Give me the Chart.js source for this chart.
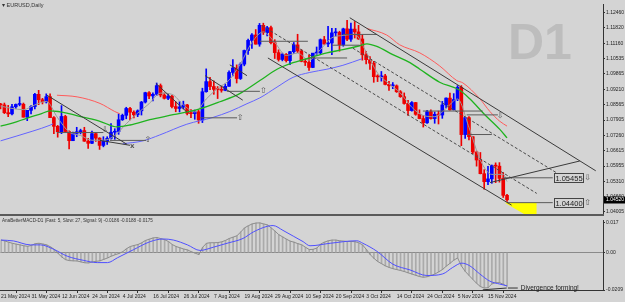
<!DOCTYPE html>
<html>
<head>
<meta charset="utf-8">
<script src="https://cdn.jsdelivr.net/npm/chart.js@4.4.1/dist/chart.umd.min.js"></script>
<style>
  html, body { margin: 0; padding: 0; background: #d4d4d4; }
  #wrap { position: relative; width: 625px; height: 302px; overflow: hidden; }
  #main { position: absolute; left: 0; top: 0; }
  #macd { position: absolute; left: 0; top: 216px; }
  #sep { position: absolute; left: 0; top: 214px; width: 604px; height: 2px; background: #5a5a5a; }
</style>
</head>
<body>
<div id="wrap">
  <canvas id="main" width="625" height="222"></canvas>
  <div id="sep"></div>
  <canvas id="macd" width="625" height="86"></canvas>
</div>
<script>
// EURUSD daily bars, 21 May 2024 .. 22 Nov 2024
const opens = [1.0857,1.0855,1.0822,1.0817,1.0847,1.0857,1.0858,1.0803,1.0832,1.0848,1.0900,1.0877,1.0868,1.0890,1.0801,1.0764,1.0741,1.0806,1.0742,1.0703,1.0734,1.0741,1.0746,1.0701,1.0692,1.0733,1.0714,1.0683,1.0701,1.0713,1.0739,1.0742,1.0792,1.0811,1.0840,1.0824,1.0813,1.0830,1.0867,1.0907,1.0893,1.0900,1.0937,1.0897,1.0883,1.0892,1.0848,1.0840,1.0846,1.0855,1.0819,1.0818,1.0826,1.0791,1.0911,1.0954,1.0933,1.0921,1.0920,1.0917,1.0934,1.0993,1.1012,1.0967,1.1028,1.1086,1.1129,1.1152,1.1113,1.1193,1.1162,1.1183,1.1119,1.1077,1.1048,1.1070,1.1043,1.1081,1.1110,1.1084,1.1040,1.1036,1.1014,1.1075,1.1076,1.1132,1.1114,1.1118,1.1161,1.1163,1.1111,1.1178,1.1134,1.1177,1.1165,1.1135,1.1068,1.1047,1.1032,1.0975,1.0974,1.0978,1.0942,1.0936,1.0936,1.0911,1.0890,1.0861,1.0831,1.0865,1.0815,1.0797,1.0779,1.0826,1.0797,1.0815,1.0812,1.0855,1.0884,1.0834,1.0878,1.0930,1.0729,1.0801,1.0720,1.0655,1.0621,1.0563,1.0529,1.0541,1.0597,1.0595,1.0543,1.0471];
const highs = [1.0862,1.0863,1.0853,1.0858,1.0859,1.0889,1.0863,1.0832,1.0852,1.0904,1.0917,1.0883,1.0902,1.0902,1.0805,1.0768,1.0852,1.0811,1.0745,1.0740,1.0760,1.0752,1.0760,1.0713,1.0744,1.0737,1.0716,1.0720,1.0720,1.0776,1.0754,1.0817,1.0816,1.0845,1.0845,1.0830,1.0834,1.0870,1.0909,1.0912,1.0906,1.0948,1.0944,1.0906,1.0903,1.0896,1.0868,1.0869,1.0871,1.0857,1.0835,1.0833,1.0832,1.0926,1.1008,1.0972,1.0957,1.0933,1.0935,1.0944,1.1000,1.1047,1.1025,1.1034,1.1088,1.1135,1.1158,1.1175,1.1201,1.1202,1.1189,1.1190,1.1132,1.1089,1.1075,1.1073,1.1083,1.1120,1.1155,1.1090,1.1050,1.1068,1.1074,1.1101,1.1135,1.1146,1.1189,1.1180,1.1180,1.1168,1.1181,1.1214,1.1202,1.1209,1.1193,1.1152,1.1082,1.1060,1.1040,1.0983,1.0997,1.0985,1.0955,1.0950,1.0940,1.0916,1.0906,1.0874,1.0869,1.0866,1.0834,1.0810,1.0832,1.0834,1.0825,1.0829,1.0870,1.0885,1.0905,1.0903,1.0937,1.0937,1.0805,1.0805,1.0721,1.0659,1.0653,1.0580,1.0594,1.0600,1.0609,1.0610,1.0568,1.0475];
const lows = [1.0838,1.0818,1.0805,1.0812,1.0840,1.0851,1.0803,1.0788,1.0817,1.0838,1.0856,1.0859,1.0863,1.0801,1.0733,1.0718,1.0733,1.0741,1.0668,1.0703,1.0720,1.0732,1.0700,1.0670,1.0690,1.0700,1.0666,1.0677,1.0687,1.0710,1.0709,1.0730,1.0789,1.0796,1.0791,1.0800,1.0805,1.0812,1.0863,1.0881,1.0872,1.0895,1.0889,1.0880,1.0877,1.0842,1.0826,1.0825,1.0838,1.0812,1.0801,1.0794,1.0777,1.0780,1.0909,1.0920,1.0900,1.0882,1.0909,1.0915,1.0934,1.0978,1.0948,1.0963,1.1021,1.1069,1.1095,1.1113,1.1104,1.1154,1.1148,1.1114,1.1052,1.1041,1.1042,1.1037,1.1026,1.1073,1.1077,1.1038,1.1022,1.1001,1.1013,1.1066,1.1070,1.1112,1.1102,1.1068,1.1147,1.1083,1.1104,1.1128,1.1125,1.1139,1.1133,1.1045,1.1029,1.1006,1.0951,1.0954,1.0956,1.0940,1.0917,1.0924,1.0908,1.0887,1.0858,1.0810,1.0828,1.0811,1.0796,1.0761,1.0776,1.0794,1.0777,1.0774,1.0798,1.0842,1.0833,1.0834,1.0873,1.0682,1.0713,1.0706,1.0648,1.0595,1.0562,1.0497,1.0516,1.0522,1.0525,1.0527,1.0462,1.0445];
const closes = [1.0855,1.0822,1.0817,1.0847,1.0857,1.0858,1.0803,1.0832,1.0848,1.0900,1.0877,1.0868,1.0890,1.0801,1.0764,1.0741,1.0806,1.0742,1.0703,1.0734,1.0741,1.0746,1.0701,1.0692,1.0733,1.0714,1.0683,1.0701,1.0713,1.0739,1.0742,1.0792,1.0811,1.0840,1.0824,1.0813,1.0830,1.0867,1.0907,1.0893,1.0900,1.0937,1.0897,1.0883,1.0892,1.0848,1.0840,1.0846,1.0855,1.0819,1.0818,1.0826,1.0791,1.0911,1.0954,1.0933,1.0921,1.0920,1.0917,1.0934,1.0993,1.1012,1.0967,1.1028,1.1086,1.1129,1.1152,1.1113,1.1193,1.1162,1.1183,1.1119,1.1077,1.1048,1.1070,1.1043,1.1081,1.1110,1.1084,1.1040,1.1036,1.1014,1.1075,1.1076,1.1132,1.1114,1.1118,1.1161,1.1163,1.1111,1.1178,1.1134,1.1177,1.1165,1.1135,1.1068,1.1047,1.1032,1.0975,1.0974,1.0978,1.0942,1.0936,1.0936,1.0911,1.0890,1.0861,1.0831,1.0865,1.0815,1.0797,1.0779,1.0826,1.0797,1.0815,1.0812,1.0855,1.0884,1.0834,1.0878,1.0930,1.0729,1.0801,1.0720,1.0655,1.0621,1.0563,1.0529,1.0541,1.0597,1.0595,1.0543,1.0471,1.0452];

// date labels every 8 bars
const dateTickBars = [0,8,16,24,32,40,48,56,64,72,80,88,96,104,112,120,128];
const dateLabels = ['21 May 2024','31 May 2024','12 Jun 2024','24 Jun 2024','4 Jul 2024','16 Jul 2024','26 Jul 2024','7 Aug 2024','19 Aug 2024','29 Aug 2024','10 Sep 2024','20 Sep 2024','3 Oct 2024','14 Oct 2024','24 Oct 2024','5 Nov 2024','15 Nov 2024'];
const priceTicks = [1.12460,1.11820,1.11160,1.10535,1.09865,1.09210,1.08565,1.07905,1.07260,1.06615,1.05955,1.05310,1.04660,1.04005];

// moving averages (bar position, price)
const fastX = [0,3,6,9,12,15,18,21,24,27,30,33,36,39,42,45,48,51,54,57,60,63,66,69,72,75,78,81,84,87,90,93,96,99,102,105,108,111,114,117,120,123,126,129,132,133];
const fastY = [1.0850,1.0840,1.0835,1.0855,1.0870,1.0800,1.0740,1.0725,1.0705,1.0705,1.0725,1.0775,1.0820,1.0860,1.0905,1.0900,1.0855,1.0825,1.0880,1.0925,1.0960,1.1030,1.1120,1.1165,1.1120,1.1065,1.1075,1.1045,1.1090,1.1140,1.1150,1.1155,1.1080,1.0990,1.0945,1.0905,1.0845,1.0810,1.0805,1.0840,1.0880,1.0760,1.0620,1.0560,1.0560,1.0530];
const greenX = [0,3.3,7,10.4,13,15.1,17.4,21.6,26.1,30.6,34,39.2,45.3,52.3,57.6,62.8,68.1,72.6,76.8,81.2,85.7,89.9,94.3,96.2,98.8,103,107.5,110.1,115.3,120.6,123.2,127.1,131.1,133];
const greenY = [1.07647,1.07784,1.07992,1.08158,1.08299,1.08270,1.08199,1.08033,1.07855,1.07618,1.07697,1.07925,1.08133,1.08381,1.08684,1.09029,1.09584,1.10066,1.10344,1.10551,1.10759,1.10896,1.11062,1.11145,1.11037,1.10688,1.10344,1.10066,1.09514,1.09170,1.08809,1.08145,1.07510,1.07150];
const blueX1 = [0,4.3,8.5,13,13.8];
const blueY1 = [1.07024,1.07232,1.07440,1.07689,1.07751];
const blueX2 = [32.1,37.4,41.8,48.9,55.8,60.2,64.7,68.1,72.6,76.8,81.2,85.7,89.9,94.9];
const blueY2 = [1.06900,1.07024,1.07274,1.07730,1.08020,1.08270,1.08601,1.08850,1.09307,1.09721,1.09929,1.10066,1.10232,1.10510];
const redX1 = [14.8,20.1,26.1,30,31.3];
const redY1 = [1.08962,1.08892,1.08614,1.08269,1.08174];
const redX2 = [96.2,101.4,104.8,110.1,115.3,119.8,121.4,125.8,128.5,131.1,133];
const redY2 = [1.11796,1.11518,1.11103,1.10759,1.10207,1.09584,1.09485,1.08821,1.08270,1.07855,1.07650];

// drawn objects: [bar1, price1, bar2, price2]
const solidLines = [
  [91.7,1.12252,156.3,1.05752],
  [70.2,1.10543,134.2,1.04293],
  [128.5,1.05252,152.1,1.06169],
  [12.2,1.08960,33.2,1.06877],
  [26.1,1.07043,34.0,1.06835],
  [40.8,1.09460,48.9,1.08252],
  [53.7,1.09793,63.6,1.08752],
  [60.2,1.10252,64.7,1.09793]
];
const dashedLines = [
  [68.6,1.11918,140.8,1.04793],
  [92.5,1.10960,146.0,1.05668]
];
// horizontal levels: [from bar, to bar, price]
const levelLines = [
  [14.8,27.0,1.07377],[28.7,38.2,1.07043],[52.3,62.1,1.08002],[59.4,68.1,1.09127],
  [68.1,80.7,1.11252],[81.2,91.0,1.10543],[87.0,94.3,1.11085],[89.9,98.8,1.11543],
  [110.9,126.6,1.08290],[122.4,130.6,1.08127],[122.7,129.0,1.07293],
  [131.9,145.0,1.05455],[133.0,145.0,1.04400]
];
const priceLabels = [[145.0,1.05455,'\u21E9'],[145.0,1.04400,'\u21E7']];
const arrowMarks = [[38.7,1.07043,'\u21E7'],[62.9,1.08002,'\u21E7'],[69.0,1.09127,'\u21E7'],[131.2,1.08100,'\u21E9'],[27.4,1.07500,'\u21E9'],[34.6,1.06800,'x']];
const yellowEdge = [[132.4,1.04400],[140.8,1.03600]];

// MACD panel
const macdMain = [0.0070,0.0065,0.0058,0.0052,0.0047,0.0043,0.0038,0.0035,0.0040,0.0050,0.0052,0.0048,0.0043,0.0032,0.0018,-0.0005,-0.0025,-0.0040,-0.0045,-0.0046,-0.0047,-0.0052,-0.0057,-0.0058,-0.0052,-0.0049,-0.0046,-0.0038,-0.0030,-0.0020,-0.0012,-0.0005,0.0005,0.0022,0.0034,0.0040,0.0045,0.0055,0.0068,0.0075,0.0082,0.0084,0.0078,0.0072,0.0062,0.0045,0.0034,0.0027,0.0020,0.0015,0.0005,-0.0003,-0.0011,0.0030,0.0052,0.0055,0.0055,0.0056,0.0060,0.0068,0.0079,0.0086,0.0094,0.0115,0.0138,0.0150,0.0160,0.0165,0.0166,0.0160,0.0155,0.0138,0.0120,0.0100,0.0088,0.0075,0.0064,0.0058,0.0050,0.0044,0.0030,0.0017,0.0018,0.0025,0.0048,0.0058,0.0066,0.0070,0.0070,0.0066,0.0064,0.0062,0.0062,0.0061,0.0055,0.0043,0.0018,-0.0011,-0.0032,-0.0050,-0.0062,-0.0074,-0.0083,-0.0090,-0.0095,-0.0100,-0.0106,-0.0113,-0.0120,-0.0127,-0.0134,-0.0138,-0.0135,-0.0128,-0.0120,-0.0108,-0.0095,-0.0076,-0.0060,-0.0042,-0.0030,-0.0075,-0.0105,-0.0128,-0.0150,-0.0172,-0.0190,-0.0198,-0.0196,-0.0175,-0.0168,-0.0168,-0.0177,-0.0188];
const signalX = [0,3.3,7.7,10.4,13.8,17.4,21.6,25.3,28,30.6,34.8,39.2,42.6,45.3,49,52.3,55.8,59.4,63.6,66.3,70,71.5,74.1,76.8,79.4,81.2,86.5,93.5,95.1,98.8,103,107.5,111.9,116.1,118.7,121.1,123.2,125.8,128.5,131.1,133];
const signalY = [0.0070,0.0065,0.0043,0.0043,0.0019,-0.0020,-0.0043,-0.0056,-0.0056,-0.0029,0.0016,0.0061,0.0076,0.0070,0.0043,0.0012,0.0030,0.0052,0.0079,0.0115,0.0147,0.0151,0.0124,0.0092,0.0061,0.0038,0.0052,0.0066,0.0052,0.0007,-0.0065,-0.0097,-0.0128,-0.0119,-0.0083,-0.0059,-0.0074,-0.0119,-0.0160,-0.0176,-0.0186];
const macdTicks = [0.017, 0, -0.0209];
const macdTickLabels = ['0.017', '0.00', '-0.0209'];
const divergenceLines = [[126.6,-0.0208,132.9,-0.0198],[133.2,-0.0198,135.8,-0.0198]];

const X_MIN = -0.15, X_MAX = 158.2;
const UP = '#0000ff', DOWN = '#ee0000';
Chart.defaults.font.family = '"Liberation Sans", Arial, sans-serif';

const bars = opens.map((_, i) => i);
const colorsByBar = bars.map(i => closes[i] >= opens[i] ? UP : DOWN);
const pts = (xs, ys) => xs.map((x, i) => ({x: x, y: ys[i]}));

function lineSet(data, color, extra) {
  return Object.assign({
    type: 'line', data: data, borderColor: color, borderWidth: 1,
    pointRadius: 0, fill: false, tension: 0, order: 1
  }, extra || {});
}

const mainSets = [];
solidLines.forEach(l => mainSets.push(lineSet([{x:l[0],y:l[1]},{x:l[2],y:l[3]}], '#3a3a3a', {order: 0})));
dashedLines.forEach(l => mainSets.push(lineSet([{x:l[0],y:l[1]},{x:l[2],y:l[3]}], '#4a4a4a', {order: 0, borderDash: [3, 2]})));
levelLines.forEach(l => mainSets.push(lineSet([{x:l[0],y:l[2]},{x:l[1],y:l[2]}], '#5a5a5a', {order: 0})));
mainSets.push(lineSet(yellowEdge.map(p => ({x:p[0], y:p[1]})), 'rgba(0,0,0,0)',
  {order: 0, fill: {value: yellowEdge[0][1]}, backgroundColor: '#ffff00', borderWidth: 0}));
mainSets.push(lineSet(pts(greenX, greenY), '#1fb31f', {borderWidth: 1.3, cubicInterpolationMode: 'monotone'}));
mainSets.push(lineSet(pts(blueX1, blueY1), '#6464ff', {cubicInterpolationMode: 'monotone'}));
mainSets.push(lineSet(pts(blueX2, blueY2), '#6464ff', {cubicInterpolationMode: 'monotone'}));
mainSets.push(lineSet(pts(redX1, redY1), '#ff5a5a', {cubicInterpolationMode: 'monotone'}));
mainSets.push(lineSet(pts(redX2, redY2), '#ff5a5a', {cubicInterpolationMode: 'monotone'}));
mainSets.push(lineSet(pts(fastX, fastY), '#9a9a9a', {order: 2, cubicInterpolationMode: 'monotone'}));
mainSets.push({
  type: 'bar', data: bars.map(i => ({x: i, y: [opens[i], closes[i]]})),
  backgroundColor: colorsByBar, barThickness: 3, grouped: false, minBarLength: 1, order: 3
});
mainSets.push({
  type: 'bar', data: bars.map(i => ({x: i, y: [lows[i], highs[i]]})),
  backgroundColor: colorsByBar, barThickness: 1, grouped: false, order: 4
});

const mainOverlay = {
  id: 'mainOverlay',
  beforeDatasetsDraw(chart) {
    const ctx = chart.ctx;
    ctx.save();
    ctx.font = 'bold 50px "Liberation Sans", Arial, sans-serif';
    ctx.fillStyle = '#bdbdbd';
    ctx.textBaseline = 'alphabetic';
    ctx.fillText('D1', 508, 59);
    ctx.restore();
  },
  afterDatasetsDraw(chart) {
    const {ctx, scales: {x, y}} = chart;
    ctx.save();
    ctx.textAlign = 'center';
    ctx.textBaseline = 'middle';
    ctx.fillStyle = '#555';
    arrowMarks.forEach(a => {
      ctx.font = a[2] === 'x' ? 'bold 7px "DejaVu Sans"' : '8px "DejaVu Sans"';
      ctx.fillText(a[2], x.getPixelForValue(a[0]), y.getPixelForValue(a[1]));
    });
    priceLabels.forEach(l => {
      const px = Math.round(x.getPixelForValue(l[0])) + 1.5;
      const py = Math.round(y.getPixelForValue(l[1]));
      ctx.fillStyle = '#d4d4d4';
      ctx.fillRect(px, py - 4.5, 29, 9);
      ctx.strokeStyle = '#444';
      ctx.lineWidth = 1;
      ctx.strokeRect(px, py - 4.5, 29, 9);
      ctx.fillStyle = '#222';
      ctx.font = '7.5px "Liberation Sans"';
      ctx.textAlign = 'center';
      ctx.fillText(l[1].toFixed(5), px + 14.5, py + 0.5);
      ctx.fillStyle = '#555';
      ctx.font = '8px "DejaVu Sans"';
      ctx.fillText(l[2], px + 33, py);
    });
    ctx.restore();
  },
  afterDraw(chart) {
    const {ctx, scales: {y}} = chart;
    ctx.save();
    const last = closes[closes.length - 1];
    const py = Math.round(y.getPixelForValue(last));
    ctx.fillStyle = '#000';
    ctx.fillRect(604, py - 3.5, 21, 7);
    ctx.fillStyle = '#fff';
    ctx.font = '5px "Liberation Sans"';
    ctx.textBaseline = 'middle';
    ctx.textAlign = 'left';
    ctx.fillText(last.toFixed(5), 606, py);
    ctx.fillStyle = '#333';
    ctx.font = '5.5px "Liberation Sans"';
    ctx.fillText('\u25BE EURUSD,Daily', 2, 5);
    ctx.restore();
  }
};

new Chart(document.getElementById('main'), {
  type: 'bar',
  data: {datasets: mainSets},
  options: {
    responsive: false, animation: false,
    layout: {padding: {left: 0, right: 0, top: 0, bottom: 8}},
    plugins: {legend: {display: false}, tooltip: {enabled: false}},
    scales: {
      x: {type: 'linear', min: X_MIN, max: X_MAX, offset: false, display: false},
      y: {
        position: 'right', min: 1.03918, max: 1.12835,
        afterBuildTicks: s => { s.ticks = priceTicks.map(v => ({value: v})); },
        afterFit: s => { s.width = 22; },
        ticks: {font: {size: 5}, color: '#222', padding: 1, autoSkip: false, callback: v => v.toFixed(5)},
        grid: {drawOnChartArea: false, drawTicks: true, tickLength: 2, color: '#333'},
        border: {display: true, color: '#333'}
      }
    }
  },
  plugins: [mainOverlay]
});

const macdOverlay = {
  id: 'macdOverlay',
  afterDraw(chart) {
    const {ctx, scales: {x, y}} = chart;
    ctx.save();
    ctx.fillStyle = '#333';
    ctx.font = '4.6px "Liberation Sans"';
    ctx.textBaseline = 'middle';
    ctx.fillText('AnaBetterMACD-D1 (Fast: 5, Slow: 27, Signal: 9) -0.0186 -0.0188 -0.0175', 2, 5);
    const d = divergenceLines[divergenceLines.length - 1];
    ctx.font = '6.5px "Liberation Sans"';
    ctx.fillStyle = '#222';
    ctx.fillText('Divergence forming!', x.getPixelForValue(d[2]) + 3, y.getPixelForValue(d[3]));
    ctx.restore();
  }
};

const macdSets = [];
divergenceLines.forEach(l => macdSets.push(lineSet([{x:l[0],y:l[1]},{x:l[2],y:l[3]}], '#333', {order: 0})));
macdSets.push(lineSet(pts(signalX, signalY), '#4f4fff', {cubicInterpolationMode: 'monotone', order: 1}));
macdSets.push(lineSet(bars.map(i => ({x: i, y: macdMain[i]})), '#8c8c8c', {order: 2}));
macdSets.push({
  type: 'bar', data: bars.map(i => ({x: i, y: macdMain[i]})),
  backgroundColor: '#aaaaaa', barThickness: 1, grouped: false, order: 3
});

new Chart(document.getElementById('macd'), {
  type: 'bar',
  data: {datasets: macdSets},
  options: {
    responsive: false, animation: false,
    layout: {padding: {left: 0, right: 0, top: 1, bottom: 0}},
    plugins: {legend: {display: false}, tooltip: {enabled: false}},
    scales: {
      x: {
        type: 'linear', min: X_MIN, max: X_MAX, offset: false,
        afterBuildTicks: s => { s.ticks = dateTickBars.map(v => ({value: v})); },
        afterFit: s => { s.height = 12; },
        ticks: {
          align: 'start', autoSkip: false, maxRotation: 0, padding: 1,
          font: {size: 5}, color: '#222',
          callback: v => dateLabels[dateTickBars.indexOf(v)]
        },
        grid: {drawOnChartArea: false, drawTicks: true, tickLength: 3, color: '#333'},
        border: {display: true, color: '#333'}
      },
      y: {
        position: 'right', min: -0.0209, max: 0.0182,
        afterBuildTicks: s => { s.ticks = macdTicks.map(v => ({value: v})); },
        afterFit: s => { s.width = 22; },
        ticks: {font: {size: 5}, color: '#222', padding: 1, autoSkip: false,
          callback: v => macdTickLabels[macdTicks.indexOf(v)]},
        grid: {
          drawOnChartArea: true, drawTicks: true, tickLength: 2,
          color: c => (c.tick && c.tick.value === 0) ? '#8a8a8a' : 'rgba(0,0,0,0)',
          tickColor: '#333'
        },
        border: {display: true, color: '#333'}
      }
    }
  },
  plugins: [macdOverlay]
});
</script>
</body>
</html>
